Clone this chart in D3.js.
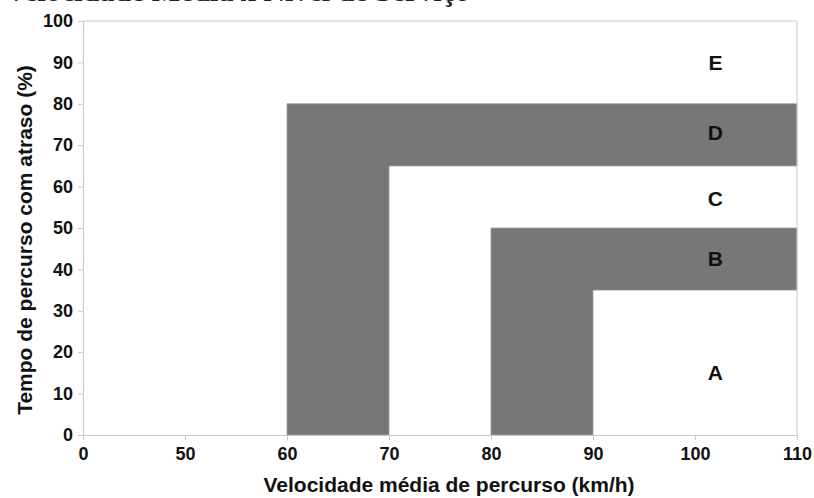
<!DOCTYPE html>
<html>
<head>
<meta charset="utf-8">
<script src="https://cdn.jsdelivr.net/npm/d3@7"></script>
<style>
  body { margin: 0; background: #fff; }
  svg { display: block; font-family: 'Liberation Sans', Arial, sans-serif; }
  .axis path, .axis line { stroke: #c8c8c8; }
  .axis text { font-size: 18px; font-weight: bold; fill: #111; }
</style>
</head>
<body>
<div id="chart"></div>
<script>
// x ticks (non-uniform: 0, then 50..110 every 10, all drawn equally spaced)
let xTicks = [0, 50, 60, 70, 80, 90, 100, 110]
let yTicks = [0, 10, 20, 30, 40, 50, 60, 70, 80, 90, 100]

// grey L-shaped bands, as [speed, delay] corners
let bandD = [[60, 0], [60, 80], [110, 80], [110, 65], [70, 65], [70, 0]]
let bandB = [[80, 0], [80, 50], [110, 50], [110, 35], [90, 35], [90, 0]]

// level of service letters
let levels = ['E', 'D', 'C', 'B', 'A']
let levelX = [102, 102, 102, 102, 102]
let levelY = [90, 73, 57, 42.5, 15]

let margin = { top: 21, left: 83, right: 17, bottom: 63 }
let width = 814 - margin.left - margin.right
let height = 498 - margin.top - margin.bottom

let svg = d3.select('#chart')
  .append('svg')
  .attr('width', 814)
  .attr('height', 498)

// heading, cut off by the top edge in the reference
svg.append('text')
  .text('Velocidade Média x Nível de Serviço')
  .attr('x', 470)
  .attr('y', 0.5)
  .attr('text-anchor', 'end')
  .attr('font-family', "'Liberation Serif', serif")
  .attr('font-weight', 'bold')
  .attr('font-size', 30)
  .attr('fill', '#222')

let g = svg.append('g')
  .attr('transform', `translate(${margin.left},${margin.top})`)

let xPositionScale = d3.scaleLinear()
  .domain(xTicks)
  .range(xTicks.map((d, i) => i * width / (xTicks.length - 1)))

let yPositionScale = d3.scaleLinear()
  .domain([0, 100])
  .range([height, 0])

let area = d3.line()
  .x(d => xPositionScale(d[0]))
  .y(d => yPositionScale(d[1]))

g.selectAll('.band')
  .data([bandD, bandB])
  .enter()
  .append('path')
  .attr('class', 'band')
  .attr('d', d => area(d) + 'Z')
  .attr('fill', '#777777')
  .attr('stroke', '#9a9a9a')
  .attr('stroke-width', 0.8)

// frame top and right
g.append('path')
  .attr('d', `M0,0H${width}V${height}`)
  .attr('fill', 'none')
  .attr('stroke', '#c8c8c8')

let xAxis = d3.axisBottom(xPositionScale).tickValues(xTicks).tickSize(5).tickPadding(7)
g.append('g')
  .attr('class', 'axis x-axis')
  .attr('transform', `translate(0,${height})`)
  .call(xAxis)

let yAxis = d3.axisLeft(yPositionScale).tickValues(yTicks).tickSize(5).tickPadding(5)
g.append('g')
  .attr('class', 'axis y-axis')
  .call(yAxis)

g.selectAll('.axis .domain').attr('stroke', '#c8c8c8')

g.selectAll('.level')
  .data(levels)
  .enter()
  .append('text')
  .attr('class', 'level')
  .text(d => d)
  .attr('x', (d, i) => xPositionScale(levelX[i]))
  .attr('y', (d, i) => yPositionScale(levelY[i]))
  .attr('dy', '0.35em')
  .attr('text-anchor', 'middle')
  .attr('font-size', 21)
  .attr('font-weight', 'bold')
  .attr('fill', '#111')

g.append('text')
  .text('Velocidade média de percurso (km/h)')
  .attr('x', width / 2 + 9)
  .attr('y', height + 57)
  .attr('text-anchor', 'middle')
  .attr('font-size', 21)
  .attr('font-weight', 'bold')
  .attr('fill', '#111')

g.append('text')
  .text('Tempo de percurso com atraso (%)')
  .attr('transform', `translate(-51,${height / 2 + 12}) rotate(-90)`)
  .attr('text-anchor', 'middle')
  .attr('font-size', 21)
  .attr('font-weight', 'bold')
  .attr('fill', '#111')
</script>
</body>
</html>
